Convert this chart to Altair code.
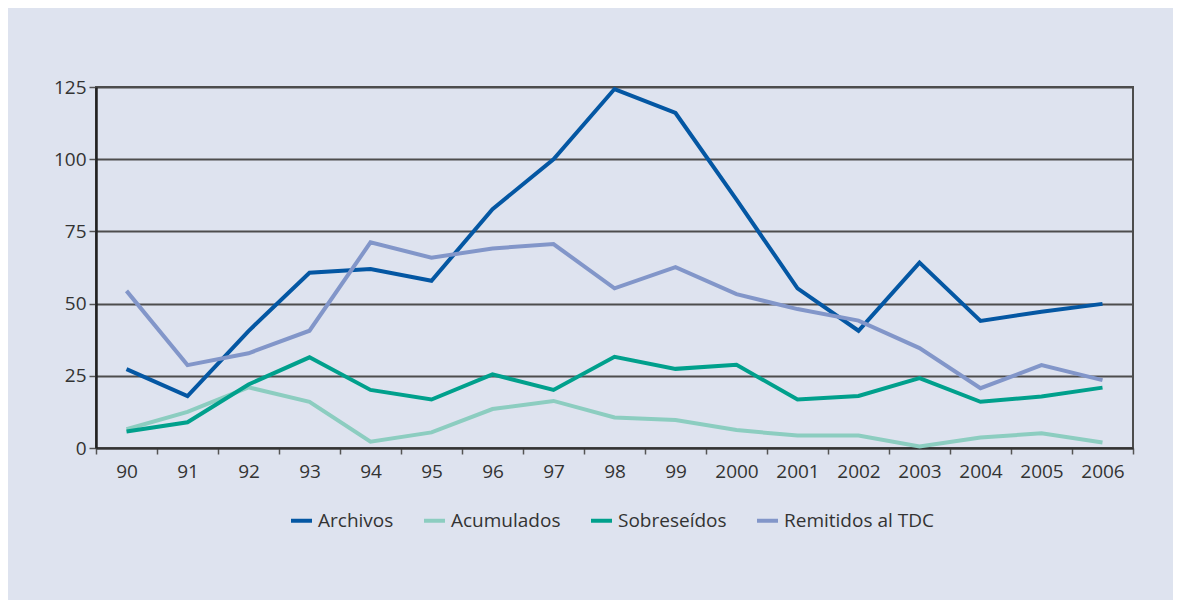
import altair as alt
import pandas as pd

years = ["90", "91", "92", "93", "94", "95", "96", "97", "98", "99",
         "2000", "2001", "2002", "2003", "2004", "2005", "2006"]
series = ["Archivos", "Acumulados", "Sobreseídos", "Remitidos al TDC"]
colors = ["#0457a3", "#8ccdc0", "#00a08c", "#8296c9"]

archivos = [27.3, 18, 40.5, 60.7, 62, 57.9, 82.7, 100, 124.3, 116, 86, 55.3, 40.6, 64.2, 44, 47.2, 49.9]
acumulados = [6.5, 12.5, 21, 16, 2.2, 5.4, 13.5, 16.3, 10.6, 9.7, 6.2, 4.3, 4.3, 0.5, 3.6, 5.1, 1.9]
sobreseidos = [5.7, 8.9, 22, 31.4, 20.1, 16.8, 25.5, 20.1, 31.6, 27.4, 28.8, 16.8, 18, 24.2, 16, 17.8, 20.9]
remitidos = [54.4, 28.7, 32.8, 40.6, 71.2, 65.9, 69.1, 70.6, 55.3, 62.6, 53.3, 48.1, 44.1, 34.6, 20.7, 28.7, 23.5]

rows = []
for name, vals in zip(series, [archivos, acumulados, sobreseidos, remitidos]):
    for y, v in zip(years, vals):
        rows.append({"year": y, "serie": name, "valor": v})
df = pd.DataFrame(rows)

FONT = "Open Sans"
TXT = "#333333"

chart = alt.Chart(df).mark_line(strokeWidth=4).encode(
    x=alt.X("year:N", sort=years, bandPosition=0.5,
            scale=alt.Scale(type="band", domain=years, paddingInner=0, paddingOuter=0),
            axis=alt.Axis(title=None, labelAngle=0, tickBand="extent", grid=False,
                          domain=True, domainColor="#333333", domainWidth=2,
                          ticks=True, tickColor="#555555", tickWidth=1.5, tickSize=6,
                          labelPadding=8, labelFontSize=19, labelFont=FONT,
                          labelColor=TXT)),
    y=alt.Y("valor:Q",
            scale=alt.Scale(domain=[0, 125], nice=False, zero=True),
            axis=alt.Axis(title=None, values=[0, 25, 50, 75, 100, 125],
                          grid=True, gridColor="#4d4d4d", gridWidth=2,
                          domain=True, domainColor="#222222", domainWidth=2.5,
                          ticks=True, tickColor="#555555", tickWidth=1.5, tickSize=7,
                          labelPadding=3, labelFontSize=19, labelFont=FONT,
                          labelColor=TXT)),
    color=alt.Color("serie:N", sort=series,
                    scale=alt.Scale(domain=series, range=colors),
                    legend=alt.Legend(title=None, orient="none", direction="horizontal",
                                      legendX=193, legendY=421,
                                      symbolType="stroke", symbolStrokeWidth=4,
                                      symbolSize=440, columnPadding=22,
                                      labelFontSize=19, labelFont=FONT,
                                      labelColor=TXT, labelOffset=4)),
    detail="serie:N",
).properties(
    width=1037,
    height=361,
    autosize=alt.AutoSizeParams(type="none"),
    padding={"left": 88, "top": 79, "right": 40, "bottom": 152},
    background="#dee3ef",
).configure_view(
    stroke="#4d4d4d", strokeWidth=2, fill="#dee3ef"
)

chart.save("out.html", embed_options={"renderer": "svg", "actions": False})
